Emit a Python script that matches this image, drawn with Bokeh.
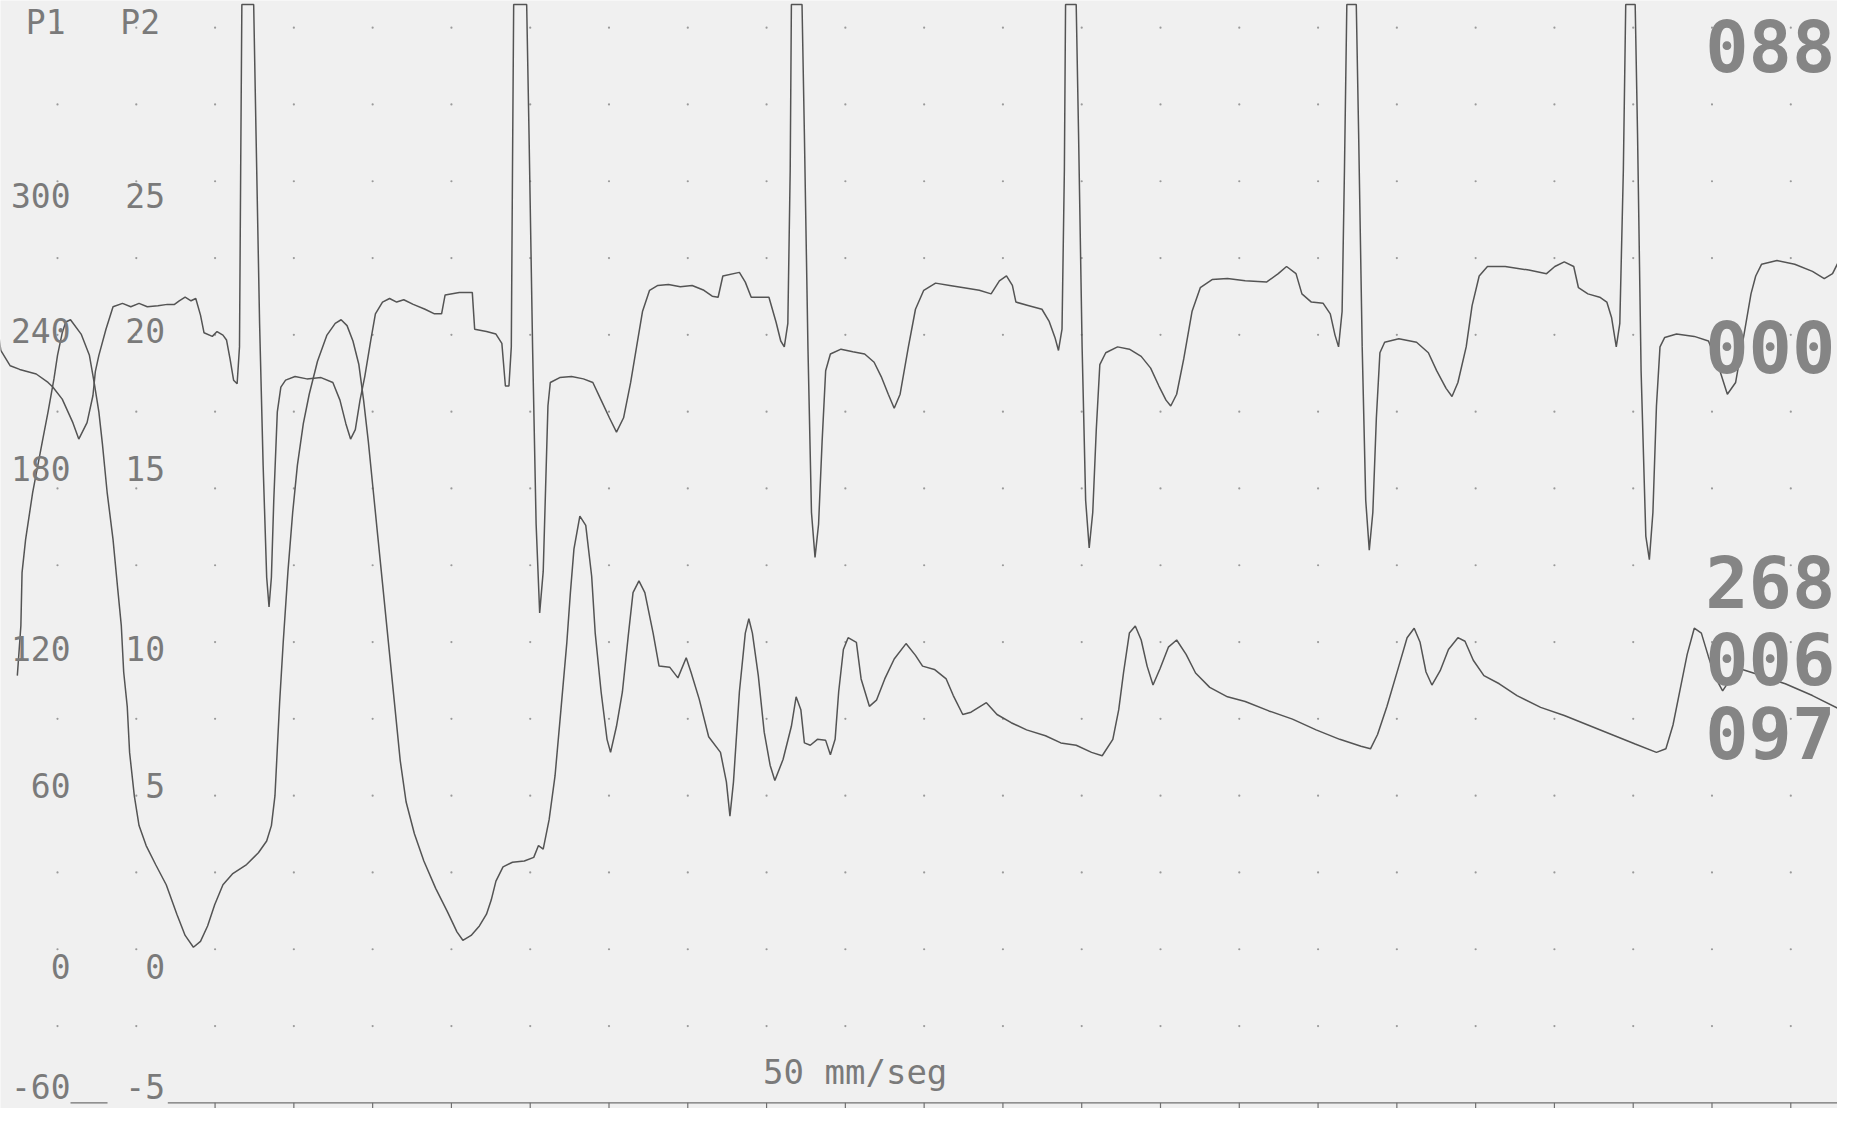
from bokeh.plotting import figure
from bokeh.models import Range1d
from bokeh.core.properties import value
from bokeh.embed import file_html
from bokeh.resources import INLINE

# ---------------- data (time in ms, pressure in mmHg on the P1 scale) ----------------
p1_t = [63, 72, 75, 84, 102, 126, 141, 156, 165, 177, 186, 198, 225, 246, 258, 270, 279,
        291, 306, 318, 327, 333, 342, 348, 360, 372, 390, 414, 441, 468, 489, 510, 528, 546,
        564, 585, 609, 645, 675, 696, 708, 717, 723, 729, 738, 750, 762, 774, 789, 804, 825,
        849, 870, 885, 900, 915, 930, 942, 954, 966, 978, 990, 1005, 1020, 1035, 1050, 1071,
        1095, 1125, 1155, 1179, 1194, 1215, 1236, 1254, 1266, 1278, 1296, 1320, 1350, 1374,
        1386, 1398, 1413, 1428, 1443, 1458, 1467, 1476, 1491, 1506, 1521, 1530, 1545, 1560,
        1569, 1584, 1599, 1614, 1626, 1641, 1656, 1677, 1692, 1719, 1740, 1761, 1773, 1794,
        1818, 1848, 1863, 1872, 1881, 1896, 1911, 1920, 1929, 1944, 1959, 1974, 1986, 2007,
        2028, 2040, 2052, 2061, 2076, 2094, 2115, 2127, 2139, 2148, 2160, 2172, 2193, 2205,
        2226, 2244, 2265, 2289, 2319, 2343, 2361, 2391, 2421, 2439, 2463, 2484, 2523, 2550,
        2586, 2625, 2673, 2712, 2751, 2790, 2817, 2844, 2859, 2871, 2886, 2901, 2916, 2931,
        2946, 2964, 2985, 3006, 3030, 3054, 3090, 3135, 3180, 3240, 3300, 3360, 3420, 3474,
        3498, 3516, 3540, 3570, 3591, 3609, 3624, 3639, 3654, 3675, 3696, 3720, 3738, 3759,
        3786, 3825, 3870, 3930, 3990, 4050, 4110, 4170, 4224, 4248, 4266, 4284, 4302, 4320,
        4338, 4356, 4374, 4392, 4410, 4434, 4470, 4551, 4620, 4704]
p1_v = [106.9, 126.3, 147.1, 160.0, 178.5, 197.9, 209.9, 222.8, 232.0, 240.8, 245.0,
        245.9, 240.3, 232.0, 221.4, 209.9, 197.4, 178.5, 160.0, 140.6, 126.3, 108.3, 94.9,
        76.9, 59.9, 48.3, 40.5, 33.1, 25.2, 13.7, 5.4, 0.8, 3.1, 9.1, 17.4, 25.2, 29.4, 33.1,
        37.7, 42.3, 48.3, 59.9, 78.3, 96.8, 119.9, 147.6, 170.6, 189.1, 205.3, 216.8, 229.7,
        239.9, 244.5, 245.9, 243.6, 237.6, 228.4, 214.5, 198.4, 179.9, 161.4, 143.0, 119.9,
        96.8, 73.7, 57.5, 45.1, 34.5, 23.8, 14.6, 6.8, 3.5, 5.4, 9.1, 13.7, 19.2, 26.6, 32.2,
        34.0, 34.5, 35.9, 40.5, 39.1, 50.6, 67.7, 93.6, 119.9, 139.3, 156.3, 169.2, 165.6,
        145.7, 123.5, 100.5, 82.0, 76.9, 87.1, 100.5, 122.6, 139.3, 143.9, 139.3, 123.5,
        110.6, 110.2, 106.0, 113.9, 108.3, 97.7, 83.0, 76.9, 65.4, 52.0, 65.4, 100.5, 123.5,
        129.1, 123.5, 106.9, 84.8, 71.9, 65.9, 74.2, 87.1, 98.6, 93.6, 80.6, 79.7, 82.0, 81.6,
        76.0, 82.0, 100.5, 117.1, 121.7, 119.9, 105.6, 94.9, 97.3, 105.6, 113.4, 119.4, 114.8,
        110.6, 109.3, 105.6, 99.1, 91.7, 92.6, 96.3, 91.7, 88.5, 85.7, 83.4, 80.6, 79.7, 76.9,
        75.6, 82.0, 93.6, 107.9, 123.5, 126.3, 120.8, 110.6, 103.2, 109.7, 118.0, 120.8,
        115.2, 107.9, 102.3, 98.6, 96.8, 93.1, 89.9, 85.7, 82.0, 79.3, 78.3, 83.9, 94.9,
        110.6, 121.7, 125.4, 119.9, 108.3, 103.2, 108.8, 117.1, 121.7, 120.3, 112.9, 106.9,
        103.7, 99.1, 94.5, 91.3, 87.6, 83.9, 80.2, 76.9, 78.3, 87.6, 101.4, 115.2, 125.4,
        123.5, 114.3, 106.0, 100.9, 105.1, 109.7, 107.9, 103.7, 99.1, 92.6]

s_t = [0, 12, 21, 45, 69, 111, 141, 153, 177, 204, 219, 240, 255, 261, 270, 288, 306, 330,
       351, 372, 393, 420, 444, 462, 474, 489, 504, 516, 528, 537, 558, 570, 585, 594, 603,
       612, 621, 627, 630, 633, 663, 669, 678, 687, 696, 702, 708, 714, 723, 732, 744, 768,
       798, 834, 864, 882, 897, 909, 921, 933, 945, 960, 972, 990, 1008, 1026, 1044, 1068,
       1098, 1122, 1140, 1149, 1185, 1218, 1224, 1254, 1278, 1293, 1302, 1311, 1317, 1320,
       1323, 1356, 1362, 1371, 1380, 1389, 1398, 1404, 1410, 1416, 1440, 1470, 1500, 1524,
       1545, 1566, 1584, 1602, 1620, 1635, 1650, 1668, 1689, 1716, 1746, 1776, 1806, 1827,
       1842, 1854, 1896, 1911, 1926, 1971, 1989, 2001, 2010, 2019, 2025, 2028, 2055, 2061,
       2070, 2079, 2088, 2097, 2106, 2115, 2127, 2154, 2184, 2214, 2238, 2256, 2274, 2289,
       2304, 2325, 2343, 2364, 2394, 2430, 2466, 2505, 2535, 2556, 2574, 2589, 2598, 2631,
       2664, 2682, 2697, 2706, 2715, 2721, 2724, 2751, 2757, 2766, 2775, 2784, 2793, 2802,
       2811, 2826, 2856, 2886, 2916, 2940, 2961, 2979, 2991, 3006, 3024, 3045, 3066, 3096,
       3135, 3180, 3234, 3264, 3285, 3309, 3324, 3348, 3378, 3396, 3408, 3417, 3426, 3432,
       3438, 3462, 3468, 3477, 3486, 3495, 3504, 3513, 3522, 3534, 3570, 3615, 3645, 3666,
       3690, 3705, 3720, 3741, 3756, 3774, 3795, 3840, 3900, 3945, 3966, 3990, 4014, 4026,
       4050, 4080, 4098, 4110, 4122, 4131, 4140, 4146, 4170, 4176, 4185, 4197, 4206, 4215,
       4224, 4233, 4245, 4275, 4320, 4356, 4380, 4404, 4425, 4446, 4464, 4476, 4491, 4530,
       4575, 4620, 4650, 4671, 4686, 4704]
s_v = [254.7, 244.5, 233.9, 227.9, 226.5, 224.7, 221.4, 219.6, 214.9, 205.7, 199.3, 205.7,
       216.3, 225.6, 232.0, 242.2, 251.0, 252.3, 251.0, 252.3, 251.0, 251.4, 251.9, 251.9,
       253.3, 254.7, 253.3, 254.2, 247.7, 240.8, 239.4, 241.3, 239.9, 238.0, 230.6, 222.3,
       220.9, 235.3, 304.5, 369.0, 369.0, 318.4, 244.5, 189.1, 145.3, 133.7, 145.3, 175.3,
       209.9, 219.6, 222.3, 223.7, 222.8, 223.3, 221.4, 214.5, 205.3, 199.3, 203.0, 214.5,
       223.7, 237.6, 248.2, 252.8, 254.2, 252.8, 253.7, 251.9, 250.0, 248.2, 248.2, 255.6,
       256.5, 256.5, 242.2, 241.3, 240.3, 236.7, 220.0, 220.0, 235.3, 304.5, 369.0, 369.0,
       318.4, 235.3, 166.0, 131.4, 147.6, 179.9, 212.2, 221.4, 223.3, 223.7, 222.8, 221.4,
       214.5, 207.6, 202.0, 207.6, 221.4, 235.3, 249.1, 257.4, 259.3, 259.7, 258.8, 259.3,
       257.4, 255.1, 254.7, 263.0, 264.4, 260.6, 254.7, 254.7, 245.0, 237.6, 235.3, 244.5,
       304.5, 369.0, 369.0, 318.4, 235.3, 170.6, 153.1, 166.0, 198.4, 226.0, 232.5, 234.4,
       233.4, 232.5, 229.3, 223.7, 216.8, 211.3, 216.8, 235.3, 250.0, 257.4, 260.2, 259.3,
       258.4, 257.4, 256.0, 261.1, 263.0, 259.3, 252.8, 251.4, 250.0, 245.4, 239.0, 233.9,
       242.2, 304.5, 369.0, 369.0, 318.4, 235.3, 175.3, 156.8, 170.6, 203.0, 228.4, 233.0,
       235.3, 234.4, 231.6, 227.0, 220.0, 214.5, 212.2, 216.8, 230.6, 249.1, 258.4, 261.6,
       262.0, 261.1, 260.6, 263.9, 266.7, 263.9, 256.0, 252.8, 252.3, 248.2, 239.9, 235.3,
       249.1, 304.5, 369.0, 369.0, 318.4, 235.3, 175.3, 155.9, 170.6, 207.6, 233.0, 237.1,
       238.5, 237.1, 233.0, 226.0, 219.1, 215.9, 221.4, 235.3, 251.4, 263.0, 266.7, 266.7,
       265.3, 263.9, 266.7, 268.5, 266.7, 258.4, 256.0, 254.7, 252.8, 246.8, 235.3, 244.5,
       304.5, 369.0, 369.0, 318.4, 226.0, 161.4, 152.2, 170.6, 212.2, 235.3, 239.0, 240.3,
       239.4, 237.6, 228.4, 216.8, 221.4, 239.9, 256.0, 263.0, 267.6, 269.0, 267.6, 264.8,
       262.0, 263.9, 268.5, 269.9]

p1_scale = [300, 240, 180, 120, 60, 0, -60]
p2_scale = ["25", "20", "15", "10", "5", "0", "-5"]
channel_names = ["P1", "P2"]
readouts = ["088", "000", "268", "006", "097"]
speed_text = "50 mm/seg"

# ---------------- layout ----------------
X0, X1 = 20.3, 4683.6
Y0, Y1 = -62.2, 370.6
ink = "#545454"
label_col = "#7a7a7a"
# printed (slightly distorted) vertical positions of the scale labels, in P1 units
label_y = [294.4, 241.7, 187.7, 117.6, 64.0, -6.6, -53.5]
readout_y = [353.0, 235.5, 143.5, 113.5, 84.5]

p = figure(width=1837, height=1108, output_backend="svg", toolbar_location=None,
           x_range=Range1d(X0, X1), y_range=Range1d(Y0, Y1), min_border=0)
p.axis.visible = False
p.grid.visible = False
p.outline_line_color = None
p.background_fill_color = "#f0f0f0"
p.border_fill_color = "#f0f0f0"

# dot grid: every 200 ms and every 30 mmHg
gx, gy = [], []
for i in range(24):
    for j in range(-1, 13):
        gx.append(165 + 200 * i)
        gy.append(30 * j)
p.scatter(gx, gy, size=2.2, color="#9a9a9a", line_color=None)

# baseline at -60 mmHg with ticks
p.segment(x0=[198, 445], y0=[-60, -60], x1=[292, X1], y1=[-60, -60], line_color="#707070", line_width=1.4)
tx = [165 + 200 * i for i in range(2, 24)]
p.segment(x0=tx, y0=[-60] * len(tx), x1=tx, y1=[-62] * len(tx), line_color="#707070", line_width=1.2)

# traces
p.line(p1_t, p1_v, line_color=ink, line_width=1.5)
p.line(s_t, s_v, line_color=ink, line_width=1.5)

# scale labels
mono = value("DejaVu Sans Mono")
p.text(x=[198] * 7, y=label_y, text=[str(v) for v in p1_scale], text_font=mono,
       text_font_size="33px", text_color=label_col, text_align="right", text_baseline="middle")
p.text(x=[438] * 7, y=label_y, text=p2_scale, text_font=mono,
       text_font_size="33px", text_color=label_col, text_align="right", text_baseline="middle")
p.text(x=[135, 375], y=[362, 362], text=channel_names, text_font=mono,
       text_font_size="33px", text_color=label_col, text_align="center", text_baseline="middle")

# numeric readouts on the right
p.text(x=[4678] * 5, y=readout_y, text=readouts, text_font=mono,
       text_font_style="bold", text_font_size="72px", text_color="#858585",
       text_align="right", text_baseline="middle")

# paper speed
p.text(x=[2190], y=[-48], text=[speed_text], text_font=mono, text_font_size="34px",
       text_color=label_col, text_align="center", text_baseline="middle")

open("out.html", "w").write(file_html(p, INLINE))
